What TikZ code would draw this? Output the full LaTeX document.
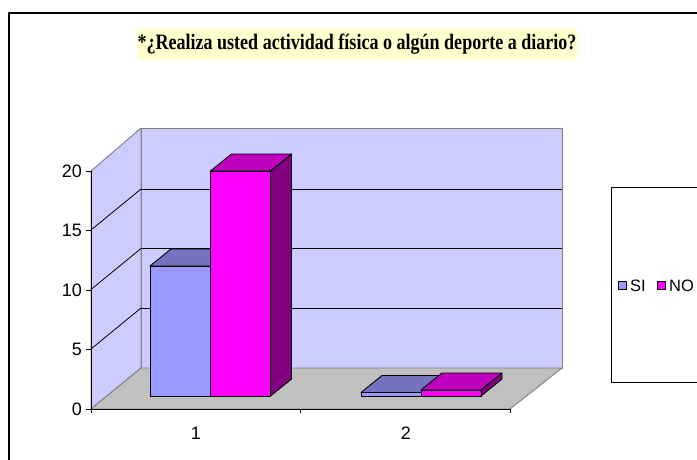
\documentclass[tikz,border=0pt]{standalone}
\usepackage{fontspec}
\setmainfont{Liberation Serif}
\newfontfamily\arialfont{Liberation Sans}
\definecolor{wallcol}{HTML}{CCCCFF}
\definecolor{floorcol}{HTML}{C0C0C0}
\definecolor{edgecol}{HTML}{808080}
\definecolor{titlecol}{HTML}{FFFFCC}
\definecolor{sifront}{HTML}{9999FF}
\definecolor{sitop}{HTML}{7373BF}
\definecolor{siside}{HTML}{4D4D80}
\definecolor{nofront}{HTML}{FF00FF}
\definecolor{notop}{HTML}{BF00BF}
\definecolor{noside}{HTML}{800080}

\begin{document}
\begin{tikzpicture}[x=1pt, y=-1pt, line join=round,
    axislabel/.style={font=\arialfont\fontsize{18}{18}\selectfont, inner sep=0pt},
    leglabel/.style={font=\arialfont\fontsize{16.5}{16.5}\selectfont, inner sep=0pt},
    face/.style={draw=black, line width=0.9pt}]
    \useasboundingbox (0,0) rectangle (697,459);
    \clip (0,0) rectangle (697,459);

    % marco y titulo
    \draw[line width=1.3pt] (9,475) -- (9,13) -- (710,13);
    \node[fill=titlecol, minimum width=440pt, minimum height=31pt, inner sep=0pt] (title) at (357,44)
        {\fontsize{22}{22}\selectfont\bfseries\scalebox{0.82}[1]{*¿Realiza usted actividad física o algún deporte a diario?}};

    % paredes y piso
    \filldraw[fill=wallcol, draw=edgecol, line width=0.9pt] (141,128) rectangle (562,368);
    \filldraw[fill=wallcol, draw=edgecol, line width=0.9pt] (91,171) -- (141,128) -- (141,368) -- (91,409) -- cycle;
    \filldraw[fill=floorcol, draw=edgecol, line width=0.9pt] (91,409) -- (141,368) -- (562,368) -- (510,409) -- cycle;
    \foreach \y in {189,248.5,308} {
        \draw[line width=0.8pt] (141,\y) -- (562,\y);
        \draw[line width=0.8pt] (91,\y+41) -- (141,\y);
    }

    % ejes
    \draw[line width=0.9pt] (91,171) -- (91,409) -- (510,409);
    \foreach \v/\y in {0/409,5/349.5,10/290,15/230,20/171} {
        \draw[line width=0.9pt] (86,\y) -- (91,\y);
        \node[axislabel, anchor=east] (val\v) at (82,\y) {\v};
    }
    \foreach \x in {91,300,510} \draw[line width=0.9pt] (\x,409) -- (\x,413);
    \node[axislabel] (cat1) at (196,433) {1};
    \node[axislabel] (cat2) at (406,433) {2};

    % barras
    \foreach \x/\t/\fr/\tp/\sd in {150/266/sifront/sitop/siside, 210.5/171/nofront/notop/noside,
                                  361/392.5/sifront/sitop/siside, 421/390/nofront/notop/noside} {
        \filldraw[face, fill=\sd] (\x+60,\t) -- (\x+81,\t-17) -- (\x+81,379) -- (\x+60,396) -- cycle;
        \filldraw[face, fill=\tp] (\x,\t) -- (\x+21,\t-17) -- (\x+81,\t-17) -- (\x+60,\t) -- cycle;
        \filldraw[face, fill=\fr] (\x,\t) rectangle (\x+60,396);
    }

    % leyenda
    \draw[line width=0.9pt] (720,187) -- (611,187) -- (611,382) -- (720,382);
    \filldraw[fill=sifront, line width=0.9pt] (618,281.5) rectangle (626,289.5);
    \node[leglabel, anchor=west] (legsi) at (630,285.5) {SI};
    \filldraw[fill=nofront, line width=0.9pt] (657,281.5) rectangle (665,289.5);
    \node[leglabel, anchor=west] (legno) at (669,285.5) {NO};
\end{tikzpicture}
\end{document}
